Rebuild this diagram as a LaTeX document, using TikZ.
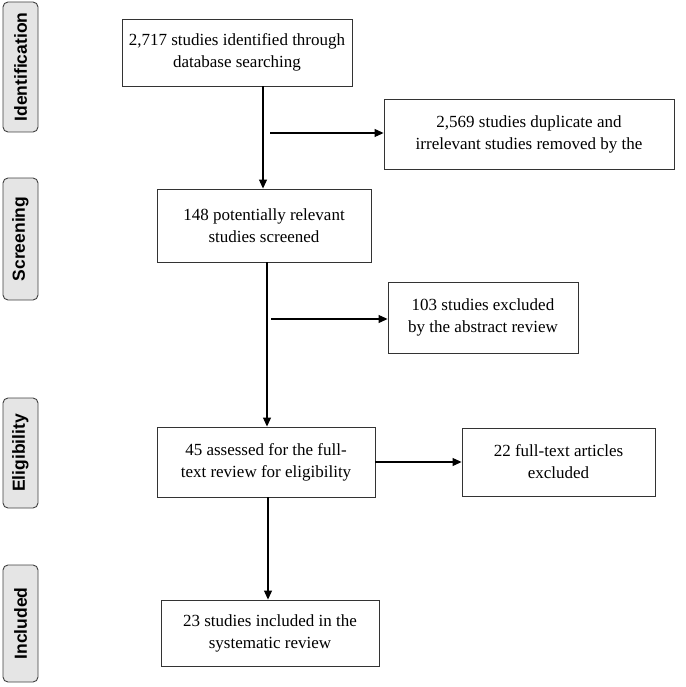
\documentclass[tikz,border=0pt]{standalone}
\usepackage{fontspec}
\setmainfont{Liberation Serif}
\newfontfamily\labelfont{Liberation Sans}
\usetikzlibrary{arrows.meta}
\begin{document}
\begin{tikzpicture}[x=1pt,y=-1pt,
  box/.style={draw=black!80,line width=0.9pt,align=center,inner sep=2pt,font=\fontsize{17}{22}\selectfont},
  phase/.style={draw=black!75,fill=black!10,line width=0.9pt,rounded corners=5pt,rotate=90,minimum height=35pt,inner sep=0pt,font=\labelfont\bfseries\fontsize{17.5}{19}\selectfont},
  arr/.style={line width=1.1pt,-{Triangle[length=9pt,width=8pt]}}]
\useasboundingbox (0,0) rectangle (685,687);
% phase labels
\node[phase,minimum width=130pt] (pid) at (20.5,67) {Identification};
\node[phase,minimum width=122pt] (psc) at (20.5,239) {Screening};
\node[phase,minimum width=110pt] (pel) at (20.5,453) {Eligibility};
\node[phase,minimum width=117pt] (pin) at (20.5,623.5) {Included};
% boxes
\node[box,minimum width=230pt,minimum height=67pt] (b1) at (237,52.5) {2,717 studies identified through\\database searching};
\node[box,minimum width=290pt,minimum height=70pt] (b2) at (529,134.5) {2,569 studies duplicate and\\irrelevant studies removed by the};
\node[box,minimum width=214pt,minimum height=73pt] (b3) at (264,225.5) {148 potentially relevant\\studies screened};
\node[box,minimum width=190pt,minimum height=71pt] (b4) at (483,317.5) {103 studies excluded\\by the abstract review};
\node[box,minimum width=218pt,minimum height=70pt] (b5) at (266,462) {45 assessed for the full-\\text review for eligibility};
\node[box,minimum width=193pt,minimum height=68pt] (b6) at (558.5,462) {22 full-text articles\\excluded};
\node[box,minimum width=218pt,minimum height=66pt] (b7) at (270,633) {23 studies included in the\\systematic review};
% connector anchors
\coordinate (x1) at (263,0);
\coordinate (s1) at (270,133);
\coordinate (x2) at (267,0);
\coordinate (s2) at (271,319);
\coordinate (x3) at (268,0);
% connectors
\draw[arr] (b1.south -| x1) -- (b3.north -| x1);
\draw[arr] (s1) -- (b2.west |- s1);
\draw[arr] (b3.south -| x2) -- (b5.north -| x2);
\draw[arr] (s2) -- (b4.west |- s2);
\draw[arr] (b5.east) -- (b6.west);
\draw[arr] (b5.south -| x3) -- (b7.north -| x3);
\end{tikzpicture}
\end{document}
